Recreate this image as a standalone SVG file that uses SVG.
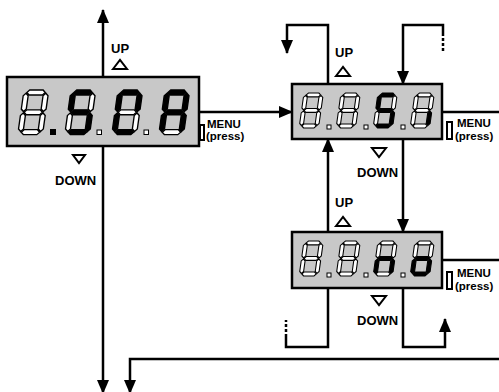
<svg xmlns="http://www.w3.org/2000/svg" xmlns:xlink="http://www.w3.org/1999/xlink" width="499" height="392" viewBox="0 0 499 392">
<style>
.box{fill:#c8c8c8;stroke:#000;stroke-width:2.5}
.ln{fill:none;stroke:#000;stroke-width:2.5}
.dash{fill:none;stroke:#000;stroke-width:2.5;stroke-dasharray:3 2}
.lbl{font-family:"Liberation Sans",Arial,sans-serif;font-weight:bold;font-size:13px;fill:#000}
.mn{font-family:"Liberation Sans",Arial,sans-serif;font-weight:bold;font-size:11.5px;fill:#000}
.tri{fill:#fff;stroke:#000;stroke-width:2;stroke-linejoin:miter}
.btn{fill:#fff;stroke:#000;stroke-width:2}
.off{fill:#fff;stroke:#000;stroke-width:1.1}
.on{fill:#000;stroke:#000;stroke-width:1.1}
.dotoff{fill:#fff;stroke:#000;stroke-width:1}
</style>
<defs>
<marker id="ah" viewBox="0 0 14 12" markerWidth="14" markerHeight="12" markerUnits="userSpaceOnUse" refX="13" refY="6" orient="auto">
<path d="M0,0 L14,6 L0,12 z" fill="#000"/>
</marker>
<polygon id="sa" points="2.6,2 4.6,0 15.4,0 17.4,2 15.4,4 4.6,4"/>
<polygon id="sg" points="2.6,18 4.6,16 15.4,16 17.4,18 15.4,20 4.6,20"/>
<polygon id="sd" points="2.6,34 4.6,32 15.4,32 17.4,34 15.4,36 4.6,36"/>
<polygon id="sf" points="2,2.6 4,4.6 4,15.4 2,17.4 0,15.4 0,4.6"/>
<polygon id="sb" points="18,2.6 20,4.6 20,15.4 18,17.4 16,15.4 16,4.6"/>
<polygon id="se" points="2,18.6 4,20.6 4,31.4 2,33.4 0,31.4 0,20.6"/>
<polygon id="sc" points="18,18.6 20,20.6 20,31.4 18,33.4 16,31.4 16,20.6"/>
</defs>
<rect width="499" height="392" fill="#fff"/>

<g id="connectors">
<path class="ln" d="M103,77 V10" marker-end="url(#ah)"/>
<path class="ln" d="M103,146 V393" marker-end="url(#ah)"/>
<path class="ln" d="M499,359 H130 V393" marker-end="url(#ah)"/>
<path class="ln" d="M199,112 H292" marker-end="url(#ah)"/>
<path class="ln" d="M328,84 V25 H287 V53" marker-end="url(#ah)"/>
<path class="ln" d="M443,33 V25 H403 V84" marker-end="url(#ah)"/>
<path class="dash" d="M443,33 V52"/>
<path class="ln" d="M442,112 H499"/>
<path class="ln" d="M403,139 V232" marker-end="url(#ah)"/>
<path class="ln" d="M328,232 V139" marker-end="url(#ah)"/>
<path class="ln" d="M442,260 H499"/>
<path class="ln" d="M328,288 V347 H286 V337"/>
<path class="dash" d="M286,337 V320"/>
<path class="ln" d="M403,288 V347 H445 V319" marker-end="url(#ah)"/>
</g>

<g id="node-sca">
<rect class="box" x="7" y="77" width="192" height="69"/>
<g transform="translate(24,90) skewX(-8) scale(1.24)">
<use href="#sa" class="off"/><use href="#sb" class="off"/><use href="#sc" class="off"/><use href="#sd" class="off"/><use href="#se" class="off"/><use href="#sf" class="off"/><use href="#sg" class="off"/>
</g>
<rect x="50" y="129" width="6" height="6" fill="#000"/>
<g transform="translate(71,90) skewX(-8) scale(1.24)">
<use href="#sa" class="on"/><use href="#sb" class="off"/><use href="#sc" class="on"/><use href="#sd" class="on"/><use href="#se" class="off"/><use href="#sf" class="on"/><use href="#sg" class="on"/>
</g>
<rect class="dotoff" x="97" y="130" width="4.5" height="4.5"/>
<g transform="translate(118,90) skewX(-8) scale(1.24)">
<use href="#sa" class="on"/><use href="#sb" class="on"/><use href="#sc" class="off"/><use href="#sd" class="on"/><use href="#se" class="on"/><use href="#sf" class="on"/><use href="#sg" class="off"/>
</g>
<rect class="dotoff" x="144" y="130" width="4.5" height="4.5"/>
<g transform="translate(165,90) skewX(-8) scale(1.24)">
<use href="#sa" class="on"/><use href="#sb" class="on"/><use href="#sc" class="on"/><use href="#sd" class="off"/><use href="#se" class="on"/><use href="#sf" class="on"/><use href="#sg" class="on"/>
</g>
<text class="lbl" x="111" y="53">UP</text>
<polygon class="tri" points="113,69 120,60 127,69"/>
<polygon class="tri" points="73,155 85,155 79,163"/>
<text class="lbl" x="55" y="185">DOWN</text>
<rect class="btn" x="200" y="125" width="4" height="15"/>
<text class="mn" x="207" y="128">MENU</text>
<text class="mn" x="206" y="140">(press)</text>
</g>

<g id="node-si">
<rect class="box" x="292" y="84" width="150" height="55"/>
<g transform="translate(304,93) skewX(-8) scale(0.97)">
<use href="#sa" class="off"/><use href="#sb" class="off"/><use href="#sc" class="off"/><use href="#sd" class="off"/><use href="#se" class="off"/><use href="#sf" class="off"/><use href="#sg" class="off"/>
</g>
<rect class="dotoff" x="327" y="125" width="4" height="4"/>
<g transform="translate(341,93) skewX(-8) scale(0.97)">
<use href="#sa" class="off"/><use href="#sb" class="off"/><use href="#sc" class="off"/><use href="#sd" class="off"/><use href="#se" class="off"/><use href="#sf" class="off"/><use href="#sg" class="off"/>
</g>
<rect class="dotoff" x="364" y="125" width="4" height="4"/>
<g transform="translate(378,93) skewX(-8) scale(0.97)">
<use href="#sa" class="on"/><use href="#sb" class="off"/><use href="#sc" class="on"/><use href="#sd" class="on"/><use href="#se" class="off"/><use href="#sf" class="on"/><use href="#sg" class="on"/>
</g>
<rect class="dotoff" x="401" y="125" width="4" height="4"/>
<g transform="translate(415,93) skewX(-8) scale(0.97)">
<use href="#sa" class="off"/><use href="#sb" class="off"/><use href="#sc" class="on"/><use href="#sd" class="off"/><use href="#se" class="off"/><use href="#sf" class="off"/><use href="#sg" class="off"/>
</g>
<text class="lbl" x="335" y="57">UP</text>
<polygon class="tri" points="336,76 343,67 350,76"/>
<polygon class="tri" points="372,148 386,148 379,157"/>
<text class="lbl" x="357" y="177">DOWN</text>
<rect class="btn" x="447" y="122" width="5" height="17"/>
<text class="mn" x="457" y="127">MENU</text>
<text class="mn" x="455" y="140">(press)</text>
</g>

<g id="node-no">
<rect class="box" x="292" y="232" width="150" height="56"/>
<g transform="translate(304,241) skewX(-8) scale(0.97)">
<use href="#sa" class="off"/><use href="#sb" class="off"/><use href="#sc" class="off"/><use href="#sd" class="off"/><use href="#se" class="off"/><use href="#sf" class="off"/><use href="#sg" class="off"/>
</g>
<rect class="dotoff" x="327" y="273" width="4" height="4"/>
<g transform="translate(341,241) skewX(-8) scale(0.97)">
<use href="#sa" class="off"/><use href="#sb" class="off"/><use href="#sc" class="off"/><use href="#sd" class="off"/><use href="#se" class="off"/><use href="#sf" class="off"/><use href="#sg" class="off"/>
</g>
<rect class="dotoff" x="364" y="273" width="4" height="4"/>
<g transform="translate(378,241) skewX(-8) scale(0.97)">
<use href="#sa" class="off"/><use href="#sb" class="off"/><use href="#sc" class="on"/><use href="#sd" class="off"/><use href="#se" class="on"/><use href="#sf" class="off"/><use href="#sg" class="on"/>
</g>
<rect class="dotoff" x="401" y="273" width="4" height="4"/>
<g transform="translate(415,241) skewX(-8) scale(0.97)">
<use href="#sa" class="off"/><use href="#sb" class="off"/><use href="#sc" class="on"/><use href="#sd" class="on"/><use href="#se" class="on"/><use href="#sf" class="off"/><use href="#sg" class="on"/>
</g>
<text class="lbl" x="335" y="207">UP</text>
<polygon class="tri" points="336,226 343,217 350,226"/>
<polygon class="tri" points="372,296 386,296 379,305"/>
<text class="lbl" x="357" y="325">DOWN</text>
<rect class="btn" x="447" y="272" width="5" height="17"/>
<text class="mn" x="457" y="277">MENU</text>
<text class="mn" x="455" y="290">(press)</text>
</g>
</svg>
